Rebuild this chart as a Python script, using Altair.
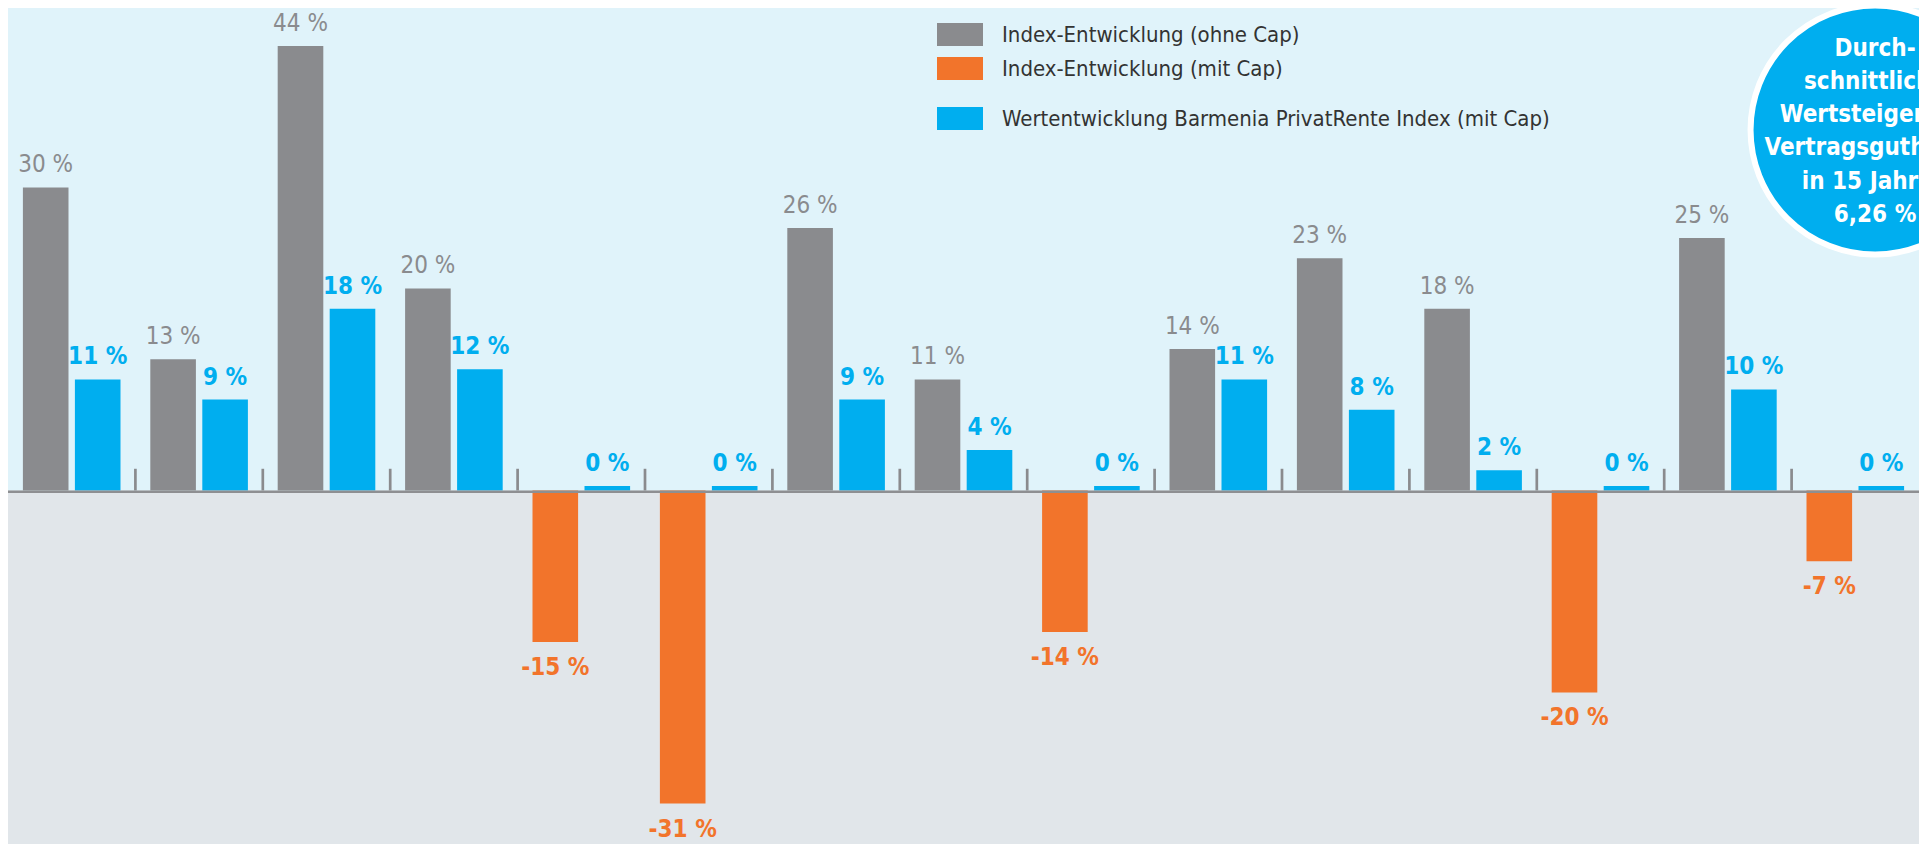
import altair as alt
import pandas as pd

# ---- data ----
jahre = list(range(1, 16))
index_ohne_cap = [30, 13, 44, 20, None, None, 26, 11, None, 14, 23, 18, None, 25, None]
index_mit_cap = [None, None, None, None, -15, -31, None, None, -14, None, None, None, -20, None, -7]
barmenia = [11, 9, 18, 12, 0, 0, 9, 4, 0, 11, 8, 2, 0, 10, 0]

serien = [
    "Index-Entwicklung (ohne Cap)",
    "Index-Entwicklung (mit Cap)",
    "Wertentwicklung Barmenia PrivatRente Index (mit Cap)",
]
farben = ["#8a8b8e", "#f2742b", "#00aeef"]

badge_zeilen = ["Durch-", "schnittliche", "Wertsteigerung", "Vertragsguthaben", "in 15 Jahren", "6,26 %"]
badge_jahr = [15]
badge_wert = [35.69]

# ---- layout ----
W, H = 1911, 836
Y_MIN, Y_MAX = -35.0, 47.77
FONT = "Liberation Sans Narrow, DejaVu Sans Condensed, Roboto Condensed, Roboto, sans-serif"
BG_TOP = "#e0f3fa"
BG_BOTTOM = "#e1e6ea"

rows = []
for i, j in enumerate(jahre):
    if index_ohne_cap[i] is not None:
        rows.append({"jahr": j, "serie": serien[0], "slot": "a", "wert": index_ohne_cap[i]})
    if index_mit_cap[i] is not None:
        rows.append({"jahr": j, "serie": serien[1], "slot": "a", "wert": index_mit_cap[i]})
    rows.append({"jahr": j, "serie": serien[2], "slot": "b", "wert": barmenia[i]})
df = pd.DataFrame(rows)

base = alt.Chart(df).transform_calculate(
    hoehe="datum.wert == 0 ? 0.45 : datum.wert",
    label="datum.wert + ' %'",
    unten=str(Y_MIN),
    null_="0",
    linie="-0.25",
    tick="2.15",
)

y_scale = alt.Scale(domain=[Y_MIN, Y_MAX], nice=False)
x_scale = alt.Scale(type="band", domain=jahre, paddingInner=0, paddingOuter=0)


def xenc(bp=None):
    if bp is None:
        return alt.X("jahr:O", scale=x_scale, axis=None)
    return alt.X("jahr:O", scale=x_scale, axis=None, bandPosition=bp)


xoff = alt.XOffset("slot:N", scale=alt.Scale(domain=["a", "b"], paddingInner=0.123, paddingOuter=0.2865))
yenc = alt.Y("hoehe:Q", scale=y_scale, axis=None)

erste = "datum.slot == 'b' && datum.jahr == 1"

# grey area below the zero line (rect with only y/y2 spans the full width)
below = base.transform_filter(erste).mark_rect(color=BG_BOTTOM).encode(
    y=alt.Y("null_:Q", scale=y_scale, axis=None), y2="unten:Q"
)
zero = base.transform_filter(erste).mark_rect(color="#8e8f92").encode(
    y=alt.Y("null_:Q", scale=y_scale, axis=None), y2="linie:Q"
)

legend_common = dict(
    orient="none",
    title=None,
    symbolType="M-2,-1H2V1H-2Z",
    symbolSize=529,
    symbolStrokeWidth=0,
    symbolOpacity=1,
    labelFont=FONT,
    labelFontSize=22,
    labelColor="#333333",
    labelOffset=30.5,
    labelLimit=900,
    rowPadding=11,
    padding=0,
    direction="vertical",
)

bars_a = base.transform_filter("datum.slot == 'a'").mark_bar().encode(
    x=xenc(), xOffset=xoff, y=yenc,
    color=alt.Color("serie:N", scale=alt.Scale(domain=serien[:2], range=farben[:2]),
                    legend=alt.Legend(legendX=940.5, legendY=15, **legend_common)),
)
bars_b = base.transform_filter("datum.slot == 'b'").mark_bar().encode(
    x=xenc(), xOffset=xoff, y=yenc,
    color=alt.Color("serie:N", scale=alt.Scale(domain=serien[2:], range=farben[2:]),
                    legend=alt.Legend(legendX=940.5, legendY=99, **legend_common)),
)

ticks = base.transform_filter("datum.slot == 'b' && datum.jahr > 1").mark_rule(
    color="#8a8b8e", strokeWidth=2.7
).encode(x=xenc(0), y=alt.Y("null_:Q", scale=y_scale, axis=None), y2="tick:Q")

txt_gray = base.transform_filter(alt.datum.serie == serien[0]).mark_text(
    font=FONT, fontSize=24, color=farben[0], baseline="alphabetic", dy=-15
).encode(x=xenc(), xOffset=xoff, y=yenc, text="label:N")
txt_blue = base.transform_filter(alt.datum.serie == serien[2]).mark_text(
    font=FONT, fontSize=24, fontWeight="bold", color=farben[2], baseline="alphabetic", dy=-15
).encode(x=xenc(), xOffset=xoff, y=yenc, text="label:N")
txt_orange = base.transform_filter(alt.datum.serie == serien[1]).mark_text(
    font=FONT, fontSize=24, fontWeight="bold", color=farben[1], baseline="alphabetic", dy=33
).encode(x=xenc(), xOffset=xoff, y=yenc, text="label:N")

badge_df = pd.DataFrame({"jahr": badge_jahr, "wert": badge_wert, "text": ["\n".join(badge_zeilen)]})
badge = alt.Chart(badge_df).mark_point(
    shape="circle", filled=True, size=62001, fill="#00aeef", stroke="white", strokeWidth=6,
    opacity=1, fillOpacity=1
).encode(x=xenc(0.655), y=alt.Y("wert:Q", scale=y_scale, axis=None))
badge_txt = alt.Chart(badge_df).mark_text(
    font=FONT, fontSize=24, fontWeight="bold", color="white", lineBreak="\n", lineHeight=33.3,
    baseline="middle", align="center", dy=-81.5
).encode(x=xenc(0.655), y=alt.Y("wert:Q", scale=y_scale, axis=None), text="text:N")

chart = alt.layer(
    below, ticks, bars_a, bars_b, zero, txt_gray, txt_blue, txt_orange, badge, badge_txt
).resolve_scale(color="independent").properties(
    width=W, height=H, background=BG_TOP, padding=0,
    autosize=alt.AutoSizeParams(type="none"),
).configure_view(strokeWidth=0, fill=BG_TOP)

chart.save("out.html", embed_options={"renderer": "svg", "actions": False})
